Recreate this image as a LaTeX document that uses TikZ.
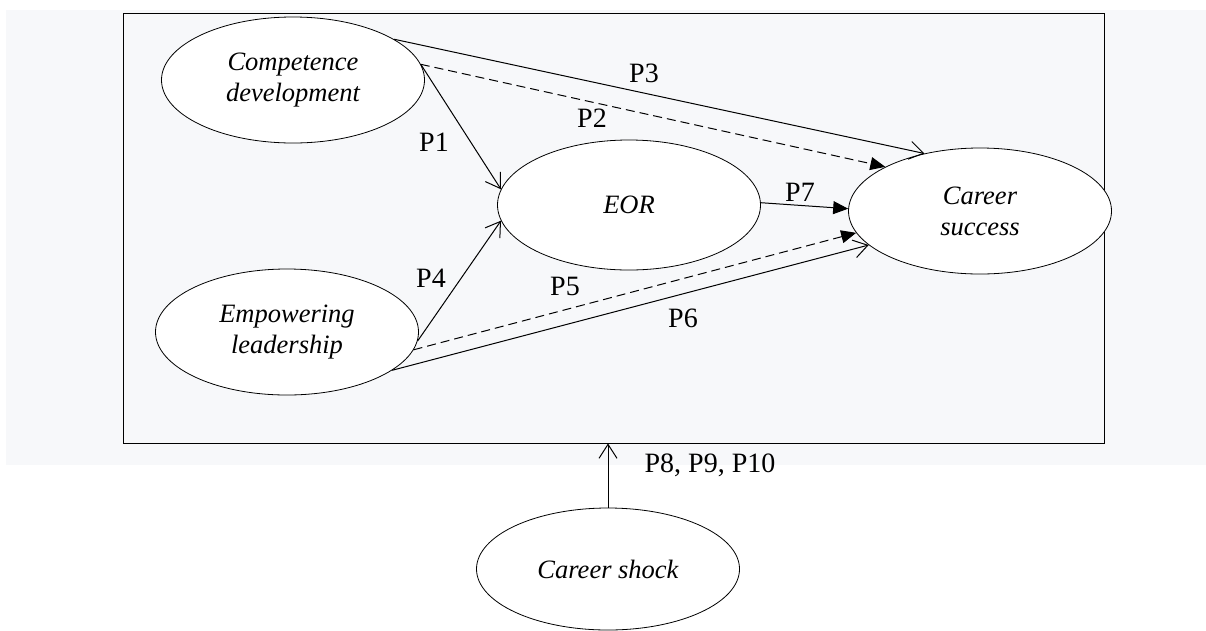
\documentclass[tikz,border=0pt]{standalone}
\usepackage{fontspec}
\setmainfont{Liberation Serif}
\usetikzlibrary{shapes.geometric,arrows.meta}
\definecolor{bg}{HTML}{F7F8FA}
\begin{document}
\begin{tikzpicture}[x=1pt,y=-1pt,
  construct/.style={ellipse,draw,fill=white,line width=0.8pt,inner sep=0pt,
    minimum width=263pt,minimum height=126pt,align=center,
    font=\fontsize{26.5}{31}\selectfont\itshape},
  lbl/.style={inner sep=0pt,font=\fontsize{28}{32}\selectfont},
  link/.style={line width=1pt},
  openhead/.style={-{Straight Barb[length=14pt,width=18pt]}},
  fillhead/.style={-{Triangle[length=15pt,width=13pt]}},
  dashedlink/.style={dash pattern=on 9pt off 5pt}]
\useasboundingbox (0,0) rectangle (1206,630);
\fill[bg] (6,10) rectangle (1206,465);
\node[draw,fill=bg,line width=0.8pt,minimum width=981pt,minimum height=430pt,inner sep=0pt] (frame) at (613.5,228) {};
% constructs
\node[construct] (cd) at (293,80) {Competence\\development};
\node[construct,minimum height=130pt] (eor) at (629,205) {EOR};
\node[construct] (cs) at (980,211) {Career\\success};
\node[construct] (el) at (287,332) {Empowering\\leadership};
\node[construct,minimum height=122pt] (sh) at (608,569) {Career shock};
% connectors
\draw[link,openhead] (cd.22) -- (cs.134);
\draw[link,dashedlink,fillhead] (cd.7) -- (cs.155);
\draw[link,openhead] (cd.7) -- (eor.173);
\draw[link,fillhead] (eor.1) -- (cs.179);
\draw[link,openhead] (el.-4) -- (eor.187);
\draw[link,dashedlink,fillhead] (el.-8) -- (cs.190);
\draw[link,openhead] (el.-20) -- (cs.197);
\draw[link,openhead] (sh.north) -- (sh.north |- frame.south);
% labels
\node[lbl] (p1) at (434,142) {P1};
\node[lbl] (p2) at (592,118) {P2};
\node[lbl] (p3) at (644,73) {P3};
\node[lbl] (p4) at (431,278) {P4};
\node[lbl] (p5) at (565,286) {P5};
\node[lbl] (p6) at (683,318) {P6};
\node[lbl] (p7) at (800,192) {P7};
\node[lbl] (p8) at (710,465) {P8, P9, P10};
\end{tikzpicture}
\end{document}
